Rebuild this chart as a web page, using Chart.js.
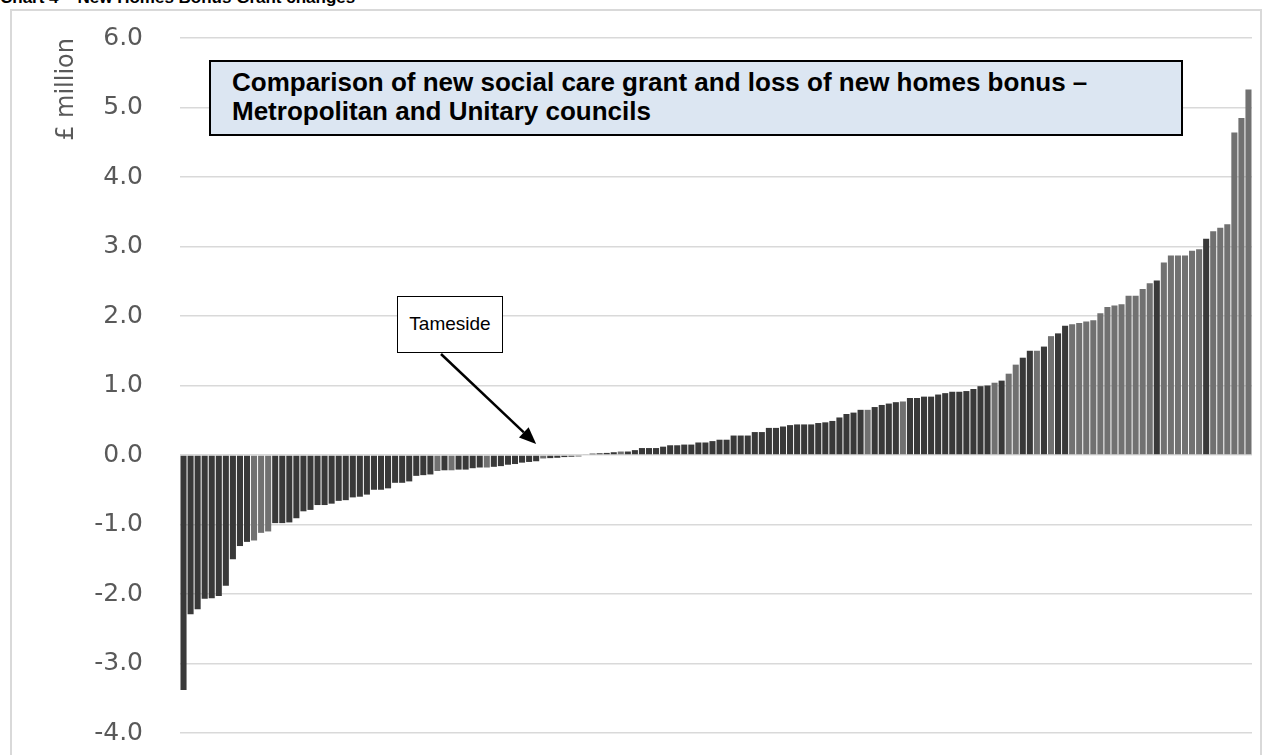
<!DOCTYPE html>
<html>
<head>
<meta charset="utf-8">
<script src="https://cdn.jsdelivr.net/npm/chart.js@4.4.1/dist/chart.umd.min.js"></script>
<style>
    html, body { margin: 0; padding: 0; background: #fff; }
    body { width: 1266px; height: 755px; position: relative; overflow: hidden; font-family: "Liberation Sans", Arial, sans-serif; }
    #heading { position: absolute; left: 0; top: -12px; font-weight: bold; font-size: 17px; white-space: nowrap; color: #000; }
    #frame { position: absolute; left: 10px; top: 9px; width: 1252px; height: 770px; border: 2px solid #d9d9d9; box-sizing: border-box; }
    #chartWrap { position: absolute; left: 0; top: 0; width: 1266px; height: 755px; }
    #note { position: absolute; left: 209px; top: 60px; width: 974px; height: 76px; box-sizing: border-box;
            border: 2px solid #000; background: #dce6f2; font-weight: bold; font-size: 26px; line-height: 29px;
            padding: 6px 0 0 21px; color: #000; }
    #callout { position: absolute; left: 397px; top: 296px; width: 106px; height: 57px; box-sizing: border-box;
               border: 1.5px solid #000; background: #fff; font-size: 19px; line-height: 54px; text-align: center; color: #000; }
</style>
</head>
<body>
<div id="heading">Chart 4 – New Homes Bonus Grant changes</div>
<div id="frame"></div>
<div id="chartWrap"><canvas id="grantChart" width="1266" height="755"></canvas></div>
<div id="note">Comparison of new social care grant and loss of new homes bonus –<br>Metropolitan and Unitary councils</div>
<div id="callout">Tameside</div>

<script>
// net change per council (£ million), sorted low to high
const changeValues = [
    -3.38, -2.29, -2.22, -2.07, -2.06, -2.03, -1.88, -1.50, -1.31, -1.25,
    -1.23, -1.12, -1.10, -0.98, -0.98, -0.97, -0.91, -0.81, -0.79, -0.72,
    -0.72, -0.70, -0.66, -0.65, -0.61, -0.60, -0.57, -0.50, -0.50, -0.48,
    -0.40, -0.40, -0.38, -0.30, -0.29, -0.28, -0.23, -0.22, -0.22, -0.21,
    -0.21, -0.19, -0.18, -0.18, -0.17, -0.16, -0.14, -0.13, -0.11, -0.10,
    -0.09, -0.05, -0.045, -0.04, -0.03, -0.025, -0.02, 0.01, 0.02, 0.025,
    0.03, 0.04, 0.05, 0.05, 0.07, 0.10, 0.10, 0.10, 0.12, 0.14,
    0.14, 0.15, 0.15, 0.18, 0.18, 0.20, 0.22, 0.22, 0.28, 0.28,
    0.28, 0.33, 0.33, 0.39, 0.39, 0.41, 0.43, 0.44, 0.44, 0.44,
    0.46, 0.47, 0.49, 0.54, 0.59, 0.61, 0.65, 0.65, 0.69, 0.72,
    0.74, 0.76, 0.77, 0.82, 0.82, 0.84, 0.84, 0.87, 0.89, 0.91,
    0.91, 0.92, 0.95, 0.99, 1.00, 1.04, 1.07, 1.17, 1.30, 1.40,
    1.50, 1.50, 1.56, 1.71, 1.75, 1.86, 1.88, 1.90, 1.92, 1.94,
    2.04, 2.13, 2.15, 2.17, 2.29, 2.29, 2.39, 2.47, 2.51, 2.77,
    2.87, 2.87, 2.87, 2.94, 2.96, 3.11, 3.22, 3.27, 3.32, 4.64,
    4.85, 5.26
];

// positions (by rank) of the bars shown in the lighter shade
const lighterBars = [
    10, 11, 12, 36, 38, 43, 51, 62, 97, 102, 115, 117, 118, 121, 123,
    126, 127, 128, 129, 130, 131, 132, 133, 134, 135, 136, 137,
    139, 140, 141, 142, 143, 144, 146, 147, 148, 149, 150, 151
];

const rankLabels = changeValues.map((_, i) => String(i + 1));
const tamesideRank = 50;

const yTicks = { min: -4, max: 6, step: 1 };

const darkGrey = "#393939";
const lightGrey = "#717171";

// arrow from the Tameside callout down to its bar
const calloutArrow = {
    id: "calloutArrow",
    afterDraw(chart) {
        const ctx = chart.ctx;
        const tipX = chart.scales.x.getPixelForValue(tamesideRank);
        const tipY = chart.scales.y.getPixelForValue(0) - 11;
        const startX = 441, startY = 354;
        const ang = Math.atan2(tipY - startY, tipX - startX);
        const headLen = 17, headHalf = 7;
        const baseX = tipX - headLen * Math.cos(ang);
        const baseY = tipY - headLen * Math.sin(ang);
        ctx.save();
        ctx.strokeStyle = "#000";
        ctx.fillStyle = "#000";
        ctx.lineWidth = 2.5;
        ctx.beginPath();
        ctx.moveTo(startX, startY);
        ctx.lineTo(baseX, baseY);
        ctx.stroke();
        ctx.beginPath();
        ctx.moveTo(tipX, tipY);
        ctx.lineTo(baseX - headHalf * Math.sin(ang), baseY + headHalf * Math.cos(ang));
        ctx.lineTo(baseX + headHalf * Math.sin(ang), baseY - headHalf * Math.cos(ang));
        ctx.closePath();
        ctx.fill();
        ctx.restore();
    }
};

new Chart(document.getElementById("grantChart"), {
    type: "bar",
    data: {
        labels: rankLabels,
        datasets: [{
            data: changeValues,
            backgroundColor: rankLabels.map((_, i) => lighterBars.includes(i) ? lightGrey : darkGrey),
            borderWidth: 0,
            categoryPercentage: 0.86,
            barPercentage: 1
        }]
    },
    options: {
        responsive: false,
        animation: false,
        devicePixelRatio: 1,
        layout: { padding: { top: 38, bottom: 22, right: 14, left: 0 } },
        plugins: { legend: { display: false }, tooltip: { enabled: false } },
        scales: {
            x: { display: false },
            y: {
                min: yTicks.min,
                max: yTicks.max,
                afterFit(scale) {
                    scale.width = 180;
                    scale.paddingTop = 0;
                    scale.paddingBottom = 0;
                },
                border: { display: false },
                grid: { color: "#d9d9d9", lineWidth: 1.5, drawTicks: false },
                ticks: {
                    stepSize: yTicks.step,
                    padding: 37,
                    color: "#595959",
                    font: { family: "DejaVu Sans", size: 25 },
                    callback: v => v.toFixed(1)
                },
                title: {
                    display: true,
                    text: "£ million",
                    align: "end",
                    color: "#595959",
                    font: { family: "DejaVu Sans", size: 24 },
                    padding: { top: 52 }
                }
            }
        }
    },
    plugins: [calloutArrow]
});
</script>
</body>
</html>
